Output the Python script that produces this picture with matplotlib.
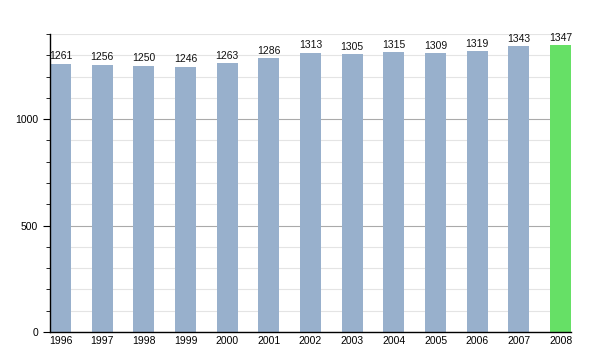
import matplotlib
matplotlib.use("Agg")
import matplotlib.pyplot as plt
from matplotlib.ticker import MultipleLocator

years = ["1996", "1997", "1998", "1999", "2000", "2001", "2002", "2003", "2004", "2005", "2006", "2007", "2008"]
values = [1261, 1256, 1250, 1246, 1263, 1286, 1313, 1305, 1315, 1309, 1319, 1343, 1347]
colors = ["#98b0cc"] * 12 + ["#66e066"]

plt.rcParams['font.family'] = ['Liberation Sans', 'DejaVu Sans']
fig = plt.figure(figsize=(6, 3.5), dpi=100)
ax = fig.add_axes([50/600, 18/350, 521/600, 298/350])

x = list(range(len(years)))
ax.bar(x, values, width=0.5, color=colors, zorder=2)
for xi, v in zip(x, values):
    ax.text(xi, v + 12, str(v), ha='center', va='bottom', fontsize=7.5, color='#111111')

ax.set_xlim(-0.25, len(years) - 0.75)
ax.set_ylim(0, 1400)
ax.set_xticks(x)
ax.set_xticklabels(years, fontsize=7.5)
ax.yaxis.set_major_locator(MultipleLocator(500))
ax.yaxis.set_minor_locator(MultipleLocator(100))
ax.tick_params(axis='y', which='major', labelsize=7.5, length=5, direction='out')
ax.tick_params(axis='y', which='minor', length=3, direction='out')
ax.tick_params(axis='x', length=0, pad=3)
ax.grid(axis='y', which='major', color='#aaaaaa', linewidth=0.8, zorder=0)
ax.grid(axis='y', which='minor', color='#e4e4e4', linewidth=0.8, zorder=0)
ax.set_axisbelow(True)
for s in ['top', 'right']:
    ax.spines[s].set_visible(False)
ax.spines['left'].set_linewidth(1)
ax.spines['bottom'].set_linewidth(1)

fig.savefig("out.png", dpi=100)
